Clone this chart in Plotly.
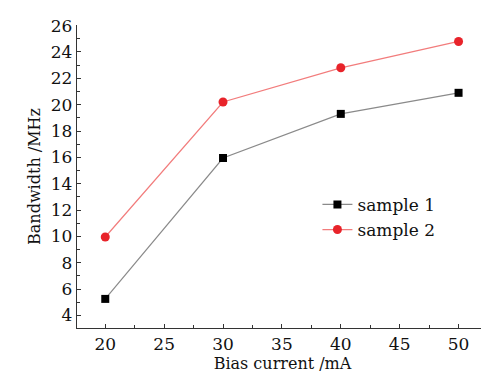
import plotly.graph_objects as go

bias_current = [20, 30, 40, 50]
sample1 = [5.25, 15.95, 19.3, 20.9]
sample2 = [9.95, 20.2, 22.8, 24.8]
x_ticks = [20, 25, 30, 35, 40, 45, 50]
y_ticks = [4, 6, 8, 10, 12, 14, 16, 18, 20, 22, 24, 26]

FONT = "DejaVu Serif, Liberation Serif, serif"

fig = go.Figure()
fig.add_trace(go.Scatter(
    x=bias_current, y=sample1, mode="lines+markers", name="sample 1",
    line=dict(color="#8a8a8a", width=1.2),
    marker=dict(symbol="square", size=8, color="black"),
))
fig.add_trace(go.Scatter(
    x=bias_current, y=sample2, mode="lines+markers", name="sample 2",
    line=dict(color="#f27c7c", width=1.2),
    marker=dict(symbol="circle", size=9, color="#e8232a"),
))

axis_common = dict(
    showgrid=False, zeroline=False, showline=True, linecolor="#333", linewidth=1.3,
    ticks="inside", ticklen=4, tickwidth=1.2, tickcolor="#333",
    minor=dict(ticks="inside", ticklen=2.5, tickwidth=1, tickcolor="#333"),
    tickfont=dict(family=FONT, size=17, color="#111"),
    automargin=False,
)

fig.update_xaxes(
    range=[17.6, 52.5], tickvals=x_ticks, **axis_common,
    title=dict(text="Bias current /mA", font=dict(family=FONT, size=16, color="#111"), standoff=4),
)
fig.update_yaxes(
    range=[3.04, 26.05], tickvals=y_ticks, **axis_common,
    title=dict(text="Bandwidth /MHz", font=dict(family=FONT, size=16, color="#111"), standoff=6),
)
fig.update_xaxes(minor=dict(dtick=2.5))
fig.update_yaxes(minor=dict(dtick=1))

fig.update_layout(
    width=489, height=376,
    margin=dict(l=69, r=9, t=17, b=56),
    paper_bgcolor="white", plot_bgcolor="white",
    showlegend=True,
    legend=dict(
        x=0.585, y=0.365, xanchor="left", yanchor="middle",
        font=dict(family=FONT, size=17, color="#111"),
        bgcolor="rgba(0,0,0,0)", tracegroupgap=0, itemwidth=30,
    ),
)

fig.write_html("out.html")
